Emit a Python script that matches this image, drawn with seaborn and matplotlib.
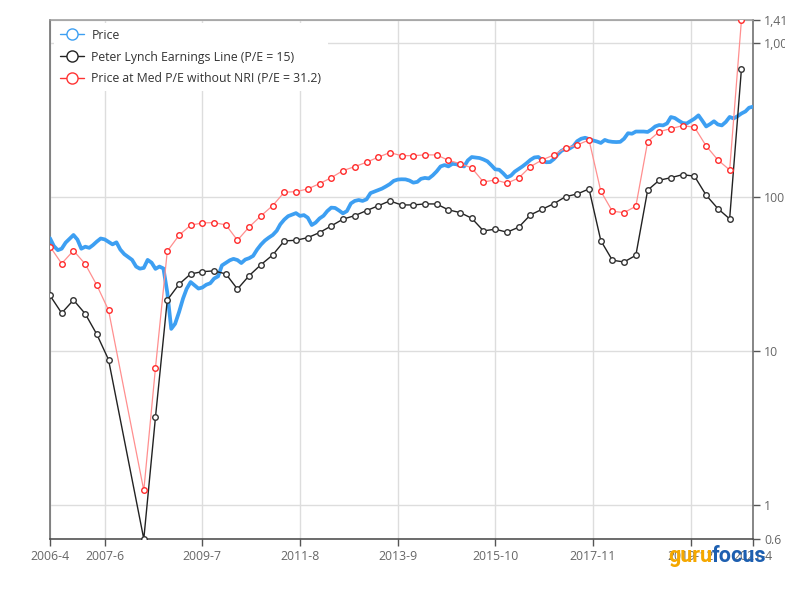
import numpy as np
import pandas as pd
import matplotlib
matplotlib.use("Agg")
import matplotlib.pyplot as plt
import seaborn as sns
from matplotlib.lines import Line2D
from matplotlib import font_manager

# ---------------- data ----------------
price_start = "2006-04-01"
price_values = [
    53.9, 48.0, 45.1, 46.1, 50.5, 53.5, 56.6, 52.8, 46.1, 47.5,
    46.7, 48.6, 51.3, 53.7, 53.0, 51.1, 49.2, 50.7, 45.5, 42.5,
    40.7, 39.0, 35.3, 34.2, 34.6, 39.0, 37.4, 34.1, 35.3, 34.3,
    24.0, 13.9, 15.0, 17.9, 21.9, 25.3, 28.0, 26.7, 25.4, 25.8,
    26.9, 27.5, 29.5, 30.5, 35.9, 37.3, 38.8, 39.6, 38.9, 37.2,
    39.2, 40.0, 41.4, 45.5, 49.0, 52.1, 54.4, 56.6, 60.3, 66.4,
    71.3, 75.0, 76.7, 78.5, 75.3, 76.2, 73.3, 65.7, 68.1, 72.5,
    75.5, 80.9, 85.2, 84.8, 81.6, 78.2, 80.9, 90.7, 94.2, 95.5,
    94.2, 96.5, 105.9, 108.2, 110.7, 113.2, 117.0, 121.1, 127.2, 129.7,
    130.2, 130.0, 127.8, 123.8, 125.3, 131.1, 132.9, 131.8, 138.1, 146.4,
    157.8, 161.1, 157.9, 164.0, 163.1, 159.9, 157.8, 172.6, 181.6, 180.2,
    178.9, 175.2, 170.3, 160.6, 151.1, 150.2, 142.6, 133.9, 137.7, 146.0,
    152.0, 158.0, 165.5, 173.9, 180.5, 181.7, 173.6, 168.0, 168.4, 176.5,
    189.7, 199.5, 205.6, 205.9, 213.8, 230.3, 238.8, 242.3, 237.7, 232.8,
    229.2, 224.2, 234.5, 230.0, 227.9, 227.2, 227.9, 238.8, 259.2, 257.4,
    265.9, 265.9, 265.9, 264.3, 274.4, 287.0, 293.1, 291.5, 300.2, 330.3,
    325.3, 312.5, 302.0, 300.0, 310.6, 322.4, 338.8, 313.4, 287.0, 297.0,
    310.1, 295.7, 291.5, 306.9, 330.8, 323.4, 334.2, 348.4, 359.2, 379.6,
    385.8,
]

quarter_dates = [
    "2006-04", "2006-07", "2006-10", "2007-01", "2007-04", "2007-07",
    "2008-04", "2008-07", "2008-10",
    "2009-01", "2009-04", "2009-07", "2009-10",
    "2010-01", "2010-04", "2010-07", "2010-10",
    "2011-01", "2011-04", "2011-07", "2011-10",
    "2012-01", "2012-04", "2012-07", "2012-10",
    "2013-01", "2013-04", "2013-07", "2013-10",
    "2014-01", "2014-04", "2014-07", "2014-10",
    "2015-01", "2015-04", "2015-07", "2015-10",
    "2016-01", "2016-04", "2016-07", "2016-10",
    "2017-01", "2017-04", "2017-07", "2017-10",
    "2018-01", "2018-04", "2018-07", "2018-10",
    "2019-01", "2019-04", "2019-07", "2019-10",
    "2020-01", "2020-04", "2020-07", "2020-10",
    "2021-01",
]

lynch_values = [
    22.9, 17.6, 21.4, 17.4, 12.8, 8.78,
    0.6, 3.71, 21.4,
    27.1, 31.6, 32.7, 33.1,
    31.6, 25.2, 30.8, 36.3,
    42.0, 51.8, 52.3, 54.4,
    58.7, 64.8, 71.7, 75.6,
    81.5, 87.5, 94.2, 88.7,
    88.7, 90.1, 90.0, 82.4,
    79.1, 72.7, 60.2, 61.7,
    59.0, 63.6, 76.4, 83.2,
    90.5, 100.4, 104.5, 112.7,
    52.0, 38.8, 37.8, 41.8,
    110.6, 128.3, 133.4, 139.6,
    136.3, 102.6, 84.0, 72.0,
    680.0,
]

medpe_values = [
    47.6, 36.9, 44.8, 36.6, 26.7, 18.4,
    1.24, 7.76, 44.4,
    56.4, 65.5, 67.8, 68.1,
    65.8, 52.3, 63.8, 75.3,
    87.9, 107.3, 108.2, 112.7,
    122.0, 133.4, 148.2, 157.3,
    168.0, 181.1, 194.0, 185.4,
    185.4, 187.5, 187.5, 173.0,
    164.5, 154.3, 125.1, 128.9,
    122.8, 132.8, 157.3, 174.0,
    187.5, 208.1, 217.6, 234.5,
    108.9, 80.7, 79.1, 87.0,
    228.6, 265.5, 277.7, 290.4,
    283.6, 214.3, 173.9, 149.7,
    1410.0,
]

series_labels = ["Price", "Peter Lynch Earnings Line (P/E = 15)",
                 "Price at Med P/E without NRI (P/E = 31.2)"]
xtick_dates = ["2006-04", "2007-06", "2009-07", "2011-08", "2013-09",
               "2015-10", "2017-11", "2019-12", "2021-04"]
xtick_labels = ["2006-4", "2007-6", "2009-7", "2011-8", "2013-9",
                "2015-10", "2017-11", "2019-12", "2021-4"]
ytick_values = [0.6, 1, 10, 100, 1000, 1410]
ytick_labels = ["0.6", "1", "10", "100", "1,000", "1,410"]

# ---------------- frames ----------------
price_df = pd.DataFrame({
    "date": pd.date_range(price_start, periods=len(price_values), freq="MS"),
    "value": price_values,
})
q_df = pd.DataFrame({
    "date": pd.to_datetime(quarter_dates),
    "lynch": lynch_values,
    "medpe": medpe_values,
})

# ---------------- style ----------------
sns.set_theme(style="white")
names = {f.name for f in font_manager.fontManager.ttflist}
base_font = "Open Sans" if "Open Sans" in names else "DejaVu Sans"
logo_font = "Liberation Sans Narrow" if "Liberation Sans Narrow" in names else "Roboto"
plt.rcParams["font.family"] = [base_font, "DejaVu Sans"]

W, H = 785, 600
fig = plt.figure(figsize=(W / 100, H / 100), dpi=100)
L, R, T, B = 50, 753, 20, 539
ax = fig.add_axes([L / W, 1 - B / H, (R - L) / W, (B - T) / H])

BLUE = "#3d9ff2"
RED_LINE = "#ff8f8f"
RED = "#ff2a2a"
BLACK = "#222222"

sns.lineplot(data=price_df, x="date", y="value", ax=ax, color=BLUE,
             linewidth=2.7, zorder=3, legend=False)
sns.lineplot(data=q_df, x="date", y="medpe", ax=ax, color=RED_LINE,
             linewidth=0.9, zorder=4, legend=False)
sns.scatterplot(data=q_df, x="date", y="medpe", ax=ax, s=16,
                facecolor="white", edgecolor=RED, linewidth=1.0, zorder=5,
                legend=False)
sns.lineplot(data=q_df, x="date", y="lynch", ax=ax, color=BLACK,
             linewidth=1.0, zorder=4, legend=False)
sns.scatterplot(data=q_df, x="date", y="lynch", ax=ax, s=16,
                facecolor="white", edgecolor="#333333", linewidth=1.0,
                zorder=5, legend=False)

ax.set_yscale("log")
ax.set_ylim(min(ytick_values), max(ytick_values))
ax.set_xlim(pd.Timestamp(price_start), price_df["date"].iloc[-1])

ax.yaxis.tick_right()
ax.set_yticks(ytick_values)
ax.set_yticklabels(ytick_labels)
ax.yaxis.set_minor_locator(matplotlib.ticker.NullLocator())
ax.set_xticks(pd.to_datetime(xtick_dates))
ax.set_xticklabels(xtick_labels)
ax.tick_params(axis="both", which="major", labelsize=8.8, colors="#555555",
               labelcolor="#666666", length=5, width=1, direction="out",
               pad=3)
ax.tick_params(axis="y", right=True, left=False)
ax.tick_params(axis="x", bottom=True)
ax.set_xlabel("")
ax.set_ylabel("")

ax.grid(True, which="major", axis="both", color="#dddddd", linewidth=1)
ax.set_axisbelow(True)
for side, col in [("left", "#666666"), ("bottom", "#444444"),
                  ("right", "#666666"), ("top", "#999999")]:
    ax.spines[side].set_visible(True)
    ax.spines[side].set_color(col)
    ax.spines[side].set_linewidth(1.1)

handles = [
    Line2D([], [], color=BLUE, lw=1, marker="o", ms=8,
           mfc="white", mec=BLUE, mew=1),
    Line2D([], [], color=BLACK, lw=1, marker="o", ms=8,
           mfc="white", mec=BLACK, mew=1),
    Line2D([], [], color="#ff3333", lw=1, marker="o", ms=8,
           mfc="white", mec="#ff3333", mew=1),
]
leg = ax.legend(handles, series_labels, loc="upper left",
                bbox_to_anchor=(0.005, 0.995), fontsize=8.8,
                frameon=True, facecolor="white", edgecolor="none",
                framealpha=1, handlelength=2.0, handletextpad=0.6,
                labelspacing=0.72, borderpad=0.5, borderaxespad=0.0)
for t in leg.get_texts():
    t.set_color("#333333")
leg.set_zorder(10)

# watermark logo
fig.text(712 / W, 1 - 562 / H, "guru", ha="right", va="baseline",
         color="#f5a800", fontsize=15.5, fontweight="bold", family=logo_font,
         zorder=20)
fig.text(712 / W, 1 - 562 / H, "focus", ha="left", va="baseline",
         color="#1d5fb0", fontsize=15.5, fontweight="bold", family=logo_font,
         zorder=20)

fig.savefig("out.png", dpi=100)
